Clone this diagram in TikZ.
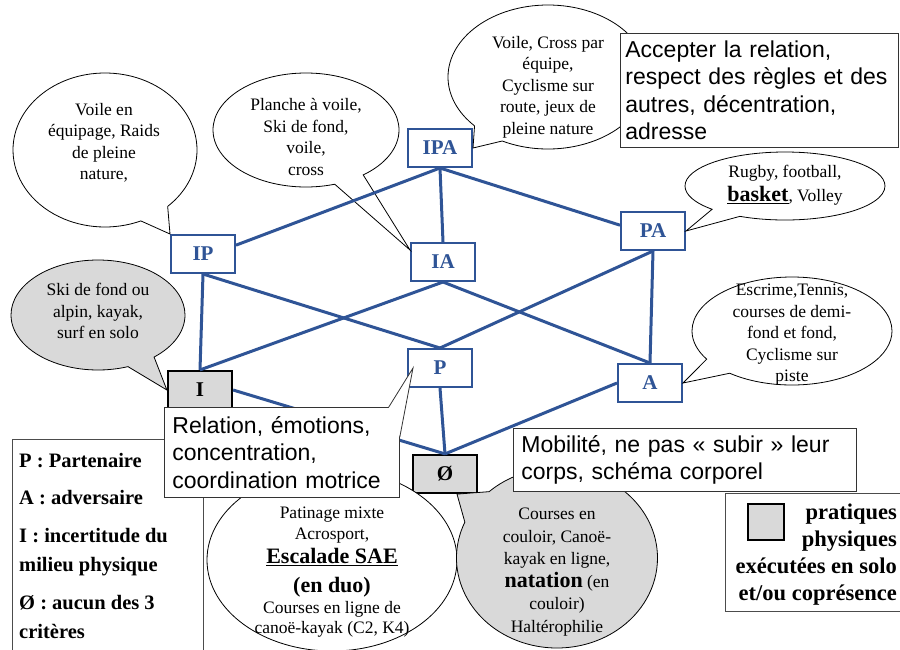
\documentclass[tikz,border=0pt]{standalone}
\usepackage{fontspec}
\setmainfont{Liberation Serif}
\setsansfont{Liberation Sans}
\usetikzlibrary{calc, shapes.geometric, shapes.callouts}

\definecolor{linkblue}{RGB}{47,84,150}
\definecolor{soloGray}{RGB}{217,217,217}

% bold, larger word inside a bubble
\newcommand{\bigword}[1]{{\fontsize{22}{22}\selectfont\bfseries #1}}

\begin{document}
\begin{tikzpicture}[x=1pt, y=-1pt,
  gbox/.style={draw=linkblue, line width=2pt, fill=white, text=linkblue,
    font=\fontsize{21}{21}\selectfont\bfseries,
    minimum width=64pt, minimum height=38pt, inner sep=0pt},
  sbox/.style={gbox, draw=black, fill=soloGray, text=black, line width=2.2pt},
  link/.style={linkblue, line width=3pt},
  bubble/.style={ellipse callout, draw, line width=0.8pt, fill=white,
    callout pointer arc=20, inner sep=0pt},
  gbubble/.style={bubble, fill=soloGray},
  btxt/.style={align=center, inner sep=0pt, font=\fontsize{17.5}{21.5}\selectfont},
  note/.style={draw=black!80, line width=0.8pt, fill=white, anchor=north west,
    align=left, inner xsep=8pt, font=\sffamily\fontsize{23}{27.5}\selectfont},
  keybox/.style={draw=black!70, line width=0.8pt, fill=white, anchor=north west},
  keytxt/.style={inner sep=0pt, font=\bfseries\fontsize{20.5}{29.5}\selectfont}
]

\useasboundingbox (0,0) rectangle (900,649);

% Legend boxes
\node[keybox, minimum width=191pt, minimum height=230pt] (keyL) at (12,439) {};
\node[keytxt, anchor=west, align=left] (keyLtxt) at (19,546)
  {P : Partenaire\\[8pt]A : adversaire\\[8pt]I : incertitude du\\milieu physique\\[8pt]Ø : aucun des 3\\critères};
\node[keybox, minimum width=180pt, minimum height=118pt] (keyR) at (725,493) {};
\node[sbox, minimum width=36pt, minimum height=36pt] (swatch) at (766,522) {};
\node[keytxt, anchor=east, align=right, font=\bfseries\fontsize{22.5}{27}\selectfont] (keyRtxt) at (897,555)
  {pratiques\\physiques\\exécutées en solo\\et/ou coprésence};

% Lattice of the criteria
\node[gbox] (IPA) at (440,148) {IPA};
\node[gbox] (IP) at (203,254) {IP};
\node[gbox] (IA) at (443,262) {IA};
\node[gbox] (PA) at (653,231) {PA};
\node[sbox] (I) at (200,390) {I};
\node[gbox] (P) at (440,368) {P};
\node[gbox] (A) at (650,383) {A};
\node[sbox] (O) at (445,474) {Ø};

% Speech bubbles
\node[bubble, minimum width=184pt, minimum height=154pt,
  callout absolute pointer={(IP.north west)}] (bVoileEq) at (105,150) {};
\node[bubble, minimum width=186pt, minimum height=114pt,
  callout absolute pointer={(IA.160)}] (bPlanche) at (306,130) {};
\node[bubble, minimum width=200pt, minimum height=144pt,
  callout absolute pointer={(IPA.east)}] (bCross) at (548,77) {};
\node[bubble, minimum width=200pt, minimum height=68pt,
  callout absolute pointer={(PA.east)}] (bRugby) at (785,186) {};
\node[bubble, minimum width=200pt, minimum height=108pt,
  callout absolute pointer={(A.east)}] (bEscrime) at (792,331) {};
\node[gbubble, minimum width=174pt, minimum height=110pt,
  callout absolute pointer={(I.west)}] (bSki) at (98,315) {};
\node[draw, ellipse, line width=0.8pt, fill=white,
  minimum width=250pt, minimum height=182pt] (eEscalade) at (332,560) {};
\node[gbubble, minimum width=201pt, minimum height=180pt, callout pointer arc=24,
  callout absolute pointer={($(O.south)+(12,0)$)}] (bCourses) at (557,558) {};

% Texts of the bubbles
\node[btxt] (tVoileEq) at (104,143) {Voile en\\équipage, Raids\\de pleine\\nature,};
\node[btxt] (tPlanche) at (306,137) {Planche à voile,\\Ski de fond,\\voile,\\cross};
\node[btxt] (tCross) at (548,87) {Voile, Cross par\\équipe,\\Cyclisme sur\\route, jeux de\\pleine nature};
\node[btxt] (tRugby) at (785,185) {Rugby, football,\\[3pt]\bigword{\underline{basket}}, Volley};
\node[btxt] (tEscrime) at (792,335) {Escrime,Tennis,\\courses de demi-\\fond et fond,\\Cyclisme sur\\piste};
\node[btxt] (tSki) at (98,311) {Ski de fond ou\\alpin, kayak,\\surf en solo};
\node[btxt, font=\fontsize{17.5}{22.5}\selectfont] (tCourses) at (557,572)
  {Courses en\\couloir, Canoë-\\kayak en ligne,\\\bigword{natation} (en\\couloir)\\Haltérophilie};
\node[btxt] (tEscalade) at (332,572)
  {Patinage mixte\\Acrosport,\\[2.5pt]\bigword{\underline{Escalade SAE}}\\[7pt]\bigword{(en duo)}\\Courses en ligne de\\[-1.5pt]canoë-kayak (C2, K4)};

% Connectors
\draw[link] (IPA.south) -- (IP.15);
\draw[link] (IPA.south) -- (IA.north);
\draw[link] (IPA.south) -- (PA.170);
\draw[link] (IP.south) -- (I.north);
\draw[link] (IP.south) -- (P.north);
\draw[link] (IA.south) -- (I.north);
\draw[link] (IA.south) -- (A.north);
\draw[link] (PA.south) -- (P.north);
\draw[link] (PA.south) -- (A.north);
\draw[link] (P.south) -- (O.north);
\draw[link] (I.east) -- (O.north);
\draw[link] (A.west) -- (O.north);

% Notes on what each family develops
\node[note, inner xsep=5pt, text width=268pt, minimum height=114pt] (accept) at (620,33)
  {Accepter la relation,\\respect des règles et des\\autres, décentration,\\adresse};
\node[note, text width=219pt, minimum height=90pt] (rel) at (164,407)
  {Relation, émotions,\\concentration,\\coordination motrice};
\filldraw[fill=white, draw=black!80, line width=0.8pt]
  ($(rel.north east)+(-11,0)$) -- ($(P.west)+(6,0)$) -- ($(rel.north east)+(0,30)$);
\node[note, text width=327pt, minimum height=63pt] (mobil) at (513,428)
  {Mobilité, ne pas « subir » leur\\corps, schéma corporel};

\end{tikzpicture}
\end{document}
